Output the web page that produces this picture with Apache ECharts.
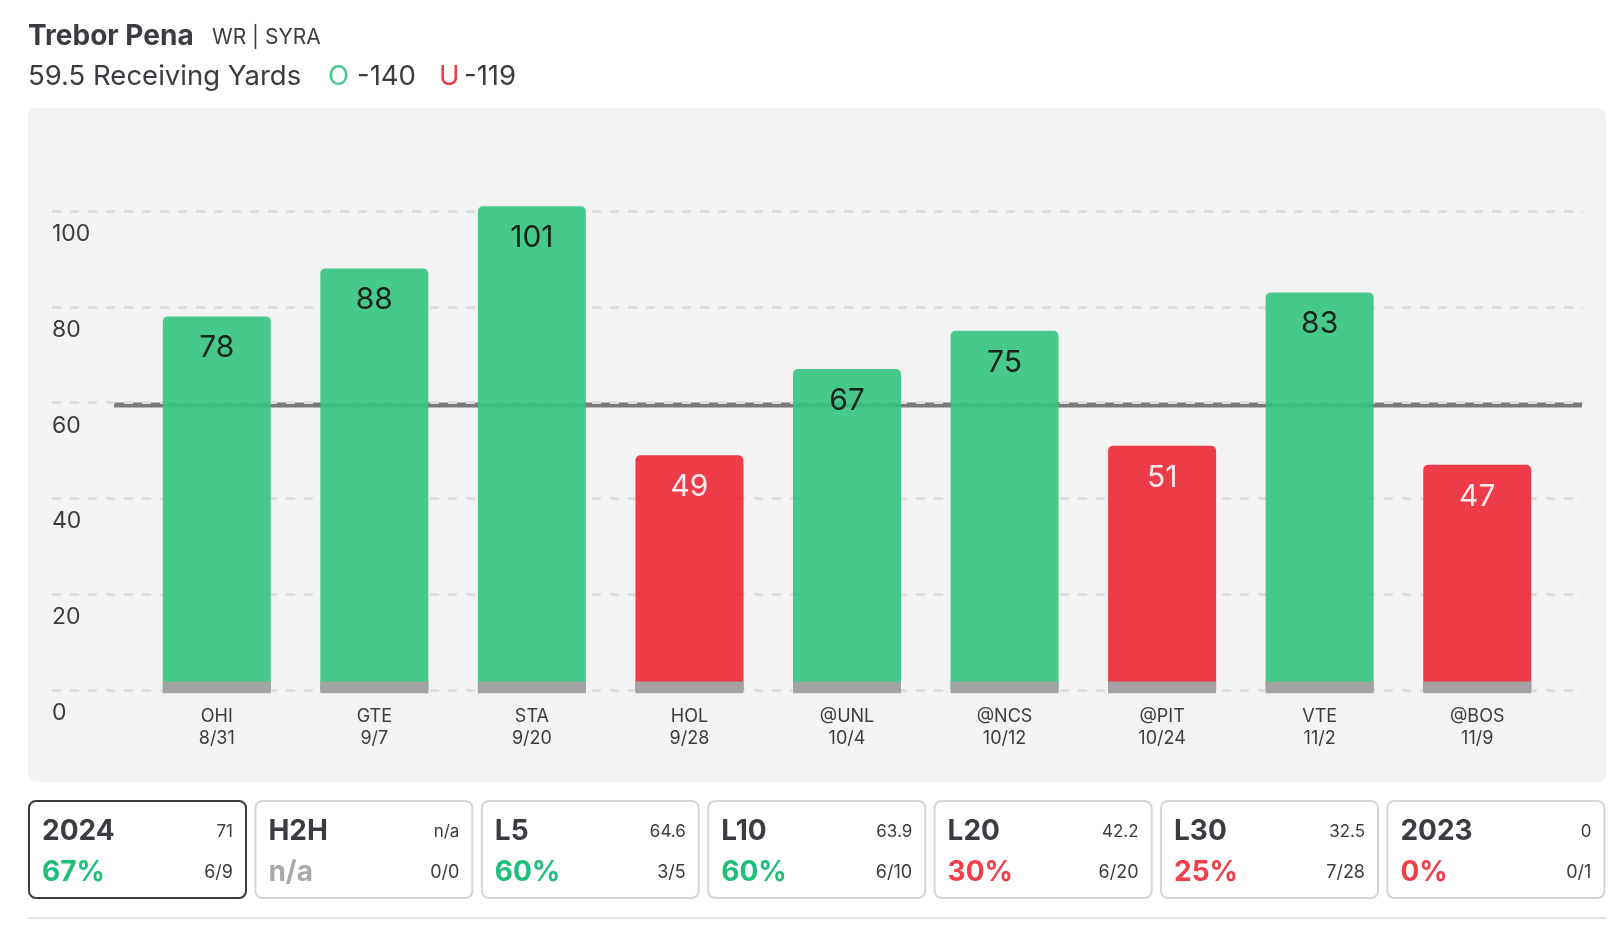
<!DOCTYPE html>
<html>
<head>
<meta charset="utf-8">
<style>
  html, body { margin: 0; padding: 0; background: #ffffff; }
  #chart { width: 1622px; height: 938px; }
</style>
<script src="https://cdn.jsdelivr.net/npm/echarts@6/dist/echarts.min.js"></script>
</head>
<body>
<div id="chart"></div>
<script>
const categories = ['OHI', 'GTE', 'STA', 'HOL', '@UNL', '@NCS', '@PIT', 'VTE', '@BOS'];
const dates = ['8/31', '9/7', '9/20', '9/28', '10/4', '10/12', '10/24', '11/2', '11/9'];
const yards = [78, 88, 101, 49, 67, 75, 51, 83, 47];
const propLine = 59.5;
const baseTop = 1.8;
const baseBottom = -0.7;

const cardLabels = ['2024', 'H2H', 'L5', 'L10', 'L20', 'L30', '2023'];
const cardAvgs = ['71', 'n/a', '64.6', '63.9', '42.2', '32.5', '0'];
const cardPcts = ['67%', 'n/a', '60%', '60%', '30%', '25%', '0%'];
const cardHits = ['6/9', '0/0', '3/5', '6/10', '6/20', '7/28', '0/1'];

const FONT = 'Inter, "Noto Sans", sans-serif';
const GREEN = '#34C481';
const RED = '#ED2735';
const GREEN_TXT = '#47C98B';
const RED_TXT = '#EE3A48';
const TEXT = '#3b3b42';

const chart = echarts.init(document.getElementById('chart'), null, { renderer: 'canvas' });

const barData = yards.map(function (v) {
  const over = v > propLine;
  return {
    value: v,
    itemStyle: { color: over ? GREEN : RED },
    label: { color: over ? '#111111' : '#ffffff' }
  };
});

const graphics = [];
graphics.push({
  type: 'rect', z: -10, silent: true,
  shape: { x: 28, y: 108, width: 1578, height: 674, r: 8 },
  style: { fill: '#f3f3f3' }
});
function txt(text, x, y, font, fill, align) {
  graphics.push({
    type: 'text', x: x, y: y, silent: true,
    style: { text: text, font: font, fill: fill, textAlign: align || 'left', align: align || 'left', textVerticalAlign: 'middle', verticalAlign: 'middle' }
  });
}
txt('Trebor Pena', 28, 37, 'bold 28px ' + FONT, TEXT);
txt('WR | SYRA', 212, 38, '21px ' + FONT, TEXT);
txt('59.5 Receiving Yards', 28, 77, '27.5px ' + FONT, TEXT);
txt('O', 328, 77, '27.5px ' + FONT, GREEN_TXT);
txt('-140', 357, 77, '27.5px ' + FONT, TEXT);
txt('U', 439, 77, '27.5px ' + FONT, RED_TXT);
txt('-119', 464, 77, '27.5px ' + FONT, TEXT);

cardLabels.forEach(function (lab, i) {
  const x = 28 + i * 226.4;
  graphics.push({
    type: 'rect', silent: true,
    shape: { x: x + 1, y: 801, width: 217, height: 97, r: 7 },
    style: { fill: '#ffffff', stroke: i === 0 ? '#3b3b40' : '#d6d6da', lineWidth: 2 }
  });
  const pct = cardPcts[i];
  let col = '#a9a9a9';
  if (pct !== 'n/a') col = parseFloat(pct) >= 50 ? '#1fbf7a' : '#ef3f48';
  txt(lab, x + 14, 832, 'bold 28px ' + FONT, TEXT);
  txt(cardAvgs[i], x + 205, 832, '17px ' + FONT, TEXT, 'right');
  txt(pct, x + 14, 873, 'bold 28px ' + FONT, col);
  txt(cardHits[i], x + 205, 873, '18px ' + FONT, TEXT, 'right');
});
graphics.push({
  type: 'line', silent: true,
  shape: { x1: 28, y1: 918, x2: 1606, y2: 918 },
  style: { stroke: '#e3e3e3', lineWidth: 2 }
});

const option = {
  animation: false,
  backgroundColor: '#ffffff',
  textStyle: { fontFamily: FONT },
  graphic: { elements: graphics },
  grid: [
    { left: 52, right: 39, top: 211, bottom: 248 },          // split lines
    { left: 138, right: 66, top: 163.1, bottom: 200.1 },     // bars
    { left: 114, right: 40, top: 211, bottom: 248 }          // prop line
  ],
  xAxis: [
    { gridIndex: 0, type: 'value', min: 0, max: 1, show: false },
    {
      gridIndex: 1, type: 'category', data: categories,
      axisLine: { show: false, onZero: false }, axisTick: { show: false },
      axisLabel: {
        margin: -32, color: TEXT, fontSize: 18, lineHeight: 22, fontFamily: FONT,
        formatter: function (v, idx) { return v + '\n' + dates[idx]; }
      }
    },
    { gridIndex: 2, type: 'value', min: 0, max: 1, show: false }
  ],
  yAxis: [
    {
      gridIndex: 0, type: 'value', min: 0, max: 100, interval: 20, z: 1,
      axisLine: { show: false }, axisTick: { show: false },
      splitLine: { show: true, lineStyle: { color: '#dedede', width: 3, type: [9, 9] } },
      axisLabel: {
        inside: true, margin: 0, align: 'left', verticalAlign: 'top',
        padding: [11, 0, 0, 0], lineHeight: 24,
        color: TEXT, fontSize: 23, fontFamily: FONT
      }
    },
    { gridIndex: 1, type: 'value', min: -10, max: 110, show: false, splitLine: { show: false } },
    { gridIndex: 2, type: 'value', min: 0, max: 100, show: false, splitLine: { show: false } }
  ],
  series: [
    {
      type: 'line', xAxisIndex: 2, yAxisIndex: 2, z: 0, silent: true,
      data: [[0, propLine], [1, propLine]], showSymbol: false, symbol: 'none',
      lineStyle: { color: '#7a7a7a', width: 5 }
    },
    {
      type: 'bar', xAxisIndex: 1, yAxisIndex: 1, z: 2, silent: true,
      data: barData, barWidth: 108, barGap: '-100%',
      itemStyle: { borderRadius: [5, 5, 0, 0], opacity: 0.9 },
      label: {
        show: true, position: 'insideTop', distance: 17,
        fontSize: 30, lineHeight: 30, fontFamily: FONT
      }
    },
    {
      type: 'bar', xAxisIndex: 1, yAxisIndex: 1, z: 3, silent: true,
      data: yards.map(function () { return baseTop; }), barWidth: 108, barGap: '-100%',
      itemStyle: { color: '#a3a3a3' }
    },
    {
      type: 'bar', xAxisIndex: 1, yAxisIndex: 1, z: 3, silent: true,
      data: yards.map(function () { return baseBottom; }), barWidth: 108, barGap: '-100%',
      itemStyle: { color: '#a3a3a3' }
    }
  ]
};
chart.setOption(option);
</script>
</body>
</html>
